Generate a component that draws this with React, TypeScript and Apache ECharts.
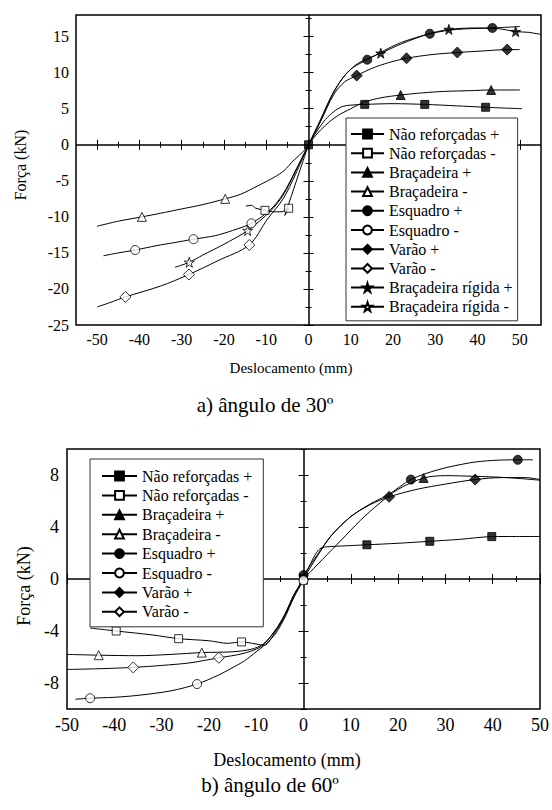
import React, { useEffect, useRef } from "react";
import * as echarts from "echarts";

const FONT = "Liberation Serif";

// ---------- Chart a) 30º ----------
const xMajor30 = [-50, -40, -30, -20, -10, 0, 10, 20, 30, 40, 50];
const xMinor30 = [-45, -35, -25, -15, -5, 5, 15, 25, 35, 45];
const yMajor30 = [-25, -20, -15, -10, -5, 0, 5, 10, 15];
const yMinor30 = [-22.5, -17.5, -12.5, -7.5, -2.5, 2.5, 7.5, 12.5, 17.5];

const naoRef30Pos = [[0, 0], [1, 1.0], [2, 1.9], [4, 3.5], [6, 4.6], [8, 5.3], [10, 5.5], [13.3, 5.6], [20, 5.7], [27.5, 5.6], [35, 5.4], [41.9, 5.2], [46, 5.1], [50.5, 5.0]];
const naoRef30PosMk = [[0, 0], [13.3, 5.6], [27.5, 5.6], [41.9, 5.2]];
const naoRef30Neg = [[0, 0], [-2, -3.5], [-4, -7.0], [-5.6, -9.8], [-5.0, -9.2], [-4.7, -8.8], [-6.5, -9.3], [-8.5, -9.3], [-10.3, -9.1], [-12.5, -8.8], [-13.5, -8.4], [-14.8, -8.5]];
const naoRef30NegMk = [[-4.7, -8.8], [-10.3, -9.1]];
const brac30Pos = [[0, 0], [2, 1.5], [4, 2.7], [6.8, 4.0], [10, 5.0], [13.1, 5.9], [17, 6.5], [21.8, 6.9], [27, 7.2], [32, 7.4], [38, 7.5], [43.2, 7.6], [50, 7.6]];
const brac30PosMk = [[21.8, 6.9], [43.2, 7.6]];
const brac30Neg = [[0, 0], [-1.5, -1.1], [-3.4, -2.1], [-5.8, -3.6], [-8.1, -4.5], [-12, -5.7], [-16, -6.85], [-19.7, -7.5], [-25, -8.3], [-30, -8.9], [-35, -9.5], [-39.4, -10.0], [-45, -10.6], [-50, -11.3]];
const brac30NegMk = [[-19.7, -7.5], [-39.4, -10.0]];
const esq30Pos = [[0, 0], [2, 2.2], [5, 6.2], [8, 9.2], [10.5, 10.7], [13.9, 11.8], [18, 13.1], [22, 14.2], [28.7, 15.4], [35, 16.0], [43.5, 16.2], [50, 16.4]];
const esq30PosMk = [[13.9, 11.8], [28.7, 15.4], [43.5, 16.2]];
const esq30Neg = [[0, 0], [-3, -3.5], [-6, -6.8], [-9, -9.0], [-13.5, -10.9], [-18, -11.9], [-22, -12.6], [-27.2, -13.1], [-32, -13.6], [-36, -14.0], [-41, -14.6], [-45, -15.0], [-48.5, -15.4]];
const esq30NegMk = [[-13.5, -10.9], [-27.2, -13.1], [-41, -14.6]];
const var30Pos = [[0, 0], [3, 3.4], [6, 7.0], [8.5, 8.7], [11.4, 9.6], [15, 10.6], [19, 11.4], [23.2, 12.0], [29, 12.5], [35.2, 12.8], [41, 13.0], [47, 13.2], [50, 13.2]];
const var30PosMk = [[11.4, 9.6], [23.2, 12.0], [35.2, 12.8], [47, 13.2]];
const var30Neg = [[0, 0], [-3, -4.0], [-6, -7.5], [-9.7, -10.3], [-14, -13.9], [-21.5, -16.1], [-28.3, -18.0], [-35, -19.6], [-43.3, -21.1], [-47, -21.9], [-50, -22.5]];
const var30NegMk = [[-14, -13.9], [-28.3, -18.0], [-43.3, -21.1]];
const rig30Pos = [[0, 0], [3, 3.7], [6, 7.4], [9, 9.9], [12, 11.4], [17.1, 12.7], [22, 14.0], [28, 15.3], [33.2, 16.0], [40, 16.2], [45, 16.1], [49, 15.7], [52, 15.6], [55, 15.3]];
const rig30PosMk = [[17.1, 12.7], [33.2, 16.0], [49, 15.7]];
const rig30Neg = [[0, 0], [-3, -3.6], [-6, -7.0], [-9, -9.2], [-14.4, -11.9], [-20, -13.8], [-25, -15.3], [-28.2, -16.3], [-31.6, -17.0]];
const rig30NegMk = [[-14.4, -11.9], [-28.2, -16.3]];

// ---------- Chart b) 60º ----------
const xMajor60 = [-50, -40, -30, -20, -10, 0, 10, 20, 30, 40, 50];
const xMinor60 = [-45, -35, -25, -15, -5, 5, 15, 25, 35, 45];
const yMajor60 = [-8, -4, 0, 4, 8];
const yMinor60 = [-10, -6, -2, 2, 6, 10];

const naoRef60Pos = [[0, 0], [1, 0.8], [2, 1.55], [3, 2.15], [4, 2.42], [6, 2.5], [10, 2.57], [13.4, 2.63], [20, 2.75], [26.7, 2.9], [33, 3.05], [39.8, 3.26], [45, 3.27], [50, 3.27]];
const naoRef60PosMk = [[0, 0.05], [13.4, 2.63], [26.7, 2.9], [39.8, 3.26]];
const naoRef60Neg = [[0, 0], [-2, -1.3], [-4, -2.9], [-6, -4.1], [-8.3, -5.1], [-10, -5.0], [-13.1, -4.84], [-16, -4.95], [-20, -4.75], [-26.4, -4.59], [-32, -4.3], [-39.6, -4.0], [-45.1, -3.77]];
const naoRef60NegMk = [[0, -0.1], [-13.1, -4.84], [-26.4, -4.59], [-39.6, -4.0]];
const brac60Pos = [[0, 0], [4, 1.5], [8, 3.0], [12, 4.5], [16, 5.8], [20, 6.9], [25.4, 7.77], [30, 7.95], [36, 7.9], [43, 7.8], [50, 7.6]];
const brac60PosMk = [[25.4, 7.77]];
const brac60Neg = [[0, 0], [-2, -1.2], [-4, -2.8], [-6, -4.0], [-8.5, -5.0], [-11, -5.4], [-15, -5.6], [-21.5, -5.66], [-28, -5.8], [-35, -5.9], [-43.3, -5.86], [-50, -5.8]];
const brac60NegMk = [[-21.5, -5.66], [-43.3, -5.86]];
const esq60Pos = [[0, 0.3], [3, 1.9], [6, 3.4], [10, 4.8], [14, 5.75], [18, 6.5], [22.7, 7.65], [28.4, 8.4], [35.4, 8.95], [40, 9.12], [45.3, 9.17], [48.5, 9.17]];
const esq60PosMk = [[0, 0.3], [22.7, 7.65], [45.3, 9.17]];
const esq60Neg = [[0, -0.1], [-2, -1.4], [-4, -3.0], [-6, -4.25], [-8, -5.0], [-10, -5.6], [-12.5, -6.3], [-15.4, -6.9], [-18, -7.4], [-22.5, -8.08], [-28, -8.6], [-35, -8.95], [-40, -9.1], [-45.1, -9.17], [-48.2, -9.25]];
const esq60NegMk = [[0, -0.1], [-22.5, -8.08], [-45.1, -9.17]];
const var60Pos = [[0, 0], [3, 1.8], [5.8, 3.3], [10, 4.8], [14, 5.7], [18.1, 6.32], [24, 6.9], [30, 7.3], [36.3, 7.65], [42, 7.8], [47, 7.8], [50, 7.65]];
const var60PosMk = [[18.1, 6.32], [36.3, 7.65]];
const var60Neg = [[0, 0], [-2, -1.2], [-4, -2.75], [-6, -3.95], [-9, -5.2], [-13, -5.75], [-17.9, -6.06], [-24, -6.45], [-30, -6.65], [-36, -6.8], [-43, -6.9], [-50, -6.96]];
const var60NegMk = [[-17.9, -6.06], [-36, -6.8]];

const STAR = "path://M50 0 L61.8 35.4 L99 35.4 L69 57.3 L80.3 92.7 L50 70.8 L19.7 92.7 L31 57.3 L1 35.4 L38.2 35.4 Z";

const defs30 = [
  { name: "Não reforçadas +", curve: naoRef30Pos, mk: naoRef30PosMk, symbol: "rect", filled: true },
  { name: "Não reforçadas -", curve: naoRef30Neg, mk: naoRef30NegMk, symbol: "rect", filled: false },
  { name: "Braçadeira +", curve: brac30Pos, mk: brac30PosMk, symbol: "triangle", filled: true },
  { name: "Braçadeira -", curve: brac30Neg, mk: brac30NegMk, symbol: "triangle", filled: false },
  { name: "Esquadro +", curve: esq30Pos, mk: esq30PosMk, symbol: "circle", filled: true },
  { name: "Esquadro -", curve: esq30Neg, mk: esq30NegMk, symbol: "circle", filled: false },
  { name: "Varão +", curve: var30Pos, mk: var30PosMk, symbol: "diamond", filled: true },
  { name: "Varão -", curve: var30Neg, mk: var30NegMk, symbol: "diamond", filled: false },
  { name: "Braçadeira rígida +", curve: rig30Pos, mk: rig30PosMk, symbol: STAR, filled: true },
  { name: "Braçadeira rígida -", curve: rig30Neg, mk: rig30NegMk, symbol: STAR, filled: false },
];

const defs60 = [
  { name: "Não reforçadas +", curve: naoRef60Pos, mk: naoRef60PosMk, symbol: "rect", filled: true },
  { name: "Não reforçadas -", curve: naoRef60Neg, mk: naoRef60NegMk, symbol: "rect", filled: false },
  { name: "Braçadeira +", curve: brac60Pos, mk: brac60PosMk, symbol: "triangle", filled: true },
  { name: "Braçadeira -", curve: brac60Neg, mk: brac60NegMk, symbol: "triangle", filled: false },
  { name: "Esquadro +", curve: esq60Pos, mk: esq60PosMk, symbol: "circle", filled: true },
  { name: "Esquadro -", curve: esq60Neg, mk: esq60NegMk, symbol: "circle", filled: false },
  { name: "Varão +", curve: var60Pos, mk: var60PosMk, symbol: "diamond", filled: true },
  { name: "Varão -", curve: var60Neg, mk: var60NegMk, symbol: "diamond", filled: false },
];

const symSize = (s: string) => (s === "diamond" ? 11 : s === "rect" ? 8 : s === STAR ? 10 : 9);

function styleOf(filled: boolean) {
  return filled
    ? { color: "#000", borderColor: "#000", borderWidth: 1 }
    : { color: "#fff", borderColor: "#000", borderWidth: 1 };
}

function buildSeries(defs: any[], xi: number, yi: number) {
  const out: any[] = [];
  defs.forEach((d, i) => {
    const line: any = {
      type: "line",
      name: d.name,
      data: d.curve,
      xAxisIndex: xi,
      yAxisIndex: yi,
      smooth: 0.3,
      showSymbol: false,
      symbol: d.symbol,
      symbolSize: symSize(d.symbol),
      lineStyle: { color: "#000", width: 1 },
      itemStyle: styleOf(d.filled),
      silent: true,
      z: 2,
    };
    if (i === 0) {
      line.markLine = {
        silent: true,
        symbol: ["none", "none"],
        label: { show: false },
        lineStyle: { color: "#000", width: 1.5, type: "solid" },
        data: [{ xAxis: 0 }, { yAxis: 0 }],
        z: 1,
      };
    }
    out.push(line);
  });
  defs.forEach((d) => {
    out.push({
      type: "scatter",
      name: d.name,
      data: d.mk,
      xAxisIndex: xi,
      yAxisIndex: yi,
      symbol: d.symbol,
      symbolSize: symSize(d.symbol),
      itemStyle: styleOf(d.filled),
      silent: true,
      z: 3,
    });
  });
  return out;
}

function tickAxis(
  gridIndex: number,
  position: string,
  min: number,
  max: number,
  interval: number,
  ticks: number[],
  len: number,
  labels: number[] | null,
  labelSize: number,
  margin: number
) {
  return {
    type: "value",
    gridIndex,
    position,
    min,
    max,
    interval,
    axisLine: { show: false },
    splitLine: { show: false },
    axisTick: {
      show: true,
      inside: true,
      length: len,
      customValues: ticks,
      lineStyle: { color: "#000", width: 1 },
    },
    axisLabel: labels
      ? {
          show: true,
          customValues: labels,
          fontSize: labelSize,
          fontFamily: FONT,
          color: "#000",
          margin,
        }
      : { show: false },
  };
}

export default function App() {
  const ref = useRef<HTMLDivElement>(null);

  useEffect(() => {
    if (!ref.current) return;
    const chart = echarts.init(ref.current, undefined, { renderer: "svg" });

    const xAxes = [
      tickAxis(0, "bottom", -55, 55, 5, xMajor30, 5, xMajor30, 16, 6),
      tickAxis(0, "bottom", -55, 55, 5, xMinor30, 3, null, 16, 6),
      tickAxis(0, "top", -55, 55, 5, xMajor30, 5, null, 16, 6),
      tickAxis(0, "top", -55, 55, 5, xMinor30, 3, null, 16, 6),
      tickAxis(1, "bottom", -50, 50, 10, xMajor60, 5, xMajor60, 18, 7),
      tickAxis(1, "bottom", -50, 50, 10, xMinor60, 3, null, 18, 7),
      tickAxis(1, "top", -50, 50, 10, xMajor60, 5, null, 18, 7),
      tickAxis(1, "top", -50, 50, 10, xMinor60, 3, null, 18, 7),
    ];
    const yAxes = [
      tickAxis(0, "left", -25, 18, 5, yMajor30, 5, yMajor30, 16, 7),
      tickAxis(0, "left", -25, 18, 5, yMinor30, 3, null, 16, 7),
      tickAxis(0, "right", -25, 18, 5, yMajor30, 5, null, 16, 7),
      tickAxis(0, "right", -25, 18, 5, yMinor30, 3, null, 16, 7),
      tickAxis(1, "left", -10, 10, 2, yMajor60, 5, yMajor60, 18, 8),
      tickAxis(1, "left", -10, 10, 2, yMinor60, 3, null, 18, 8),
      tickAxis(1, "right", -10, 10, 2, yMajor60, 5, null, 18, 8),
      tickAxis(1, "right", -10, 10, 2, yMinor60, 3, null, 18, 8),
    ];

    const legendBase = {
      orient: "vertical",
      itemWidth: 33,
      itemHeight: 11,
      itemGap: 3,
      backgroundColor: "#fff",
      borderColor: "#333",
      borderWidth: 1,
      selectedMode: false,
      textStyle: { fontFamily: FONT, fontSize: 16, color: "#000", lineHeight: 16 },
    };

    const option: any = {
      animation: false,
      backgroundColor: "#fff",
      textStyle: { fontFamily: FONT, color: "#000" },
      grid: [
        { left: 76, top: 15, width: 465, height: 310, show: true, borderColor: "#000", borderWidth: 1.5, backgroundColor: "transparent" },
        { left: 67, top: 449, width: 474, height: 260, show: true, borderColor: "#000", borderWidth: 1.5, backgroundColor: "transparent" },
      ],
      xAxis: xAxes,
      yAxis: yAxes,
      legend: [
        { ...legendBase, left: 346, top: 118, padding: [8, 5, 6, 4], itemGap: 3.2, data: defs30.map((d) => d.name) },
        { ...legendBase, itemWidth: 35, left: 90, top: 459, padding: [9, 11, 7, 11], itemGap: 3.4, data: defs60.map((d) => d.name) },
      ],
      series: [...buildSeries(defs30, 0, 0), ...buildSeries(defs60, 4, 4)],
      graphic: [
        { type: "text", x: 20, y: 165, rotation: Math.PI / 2, style: { text: "Força (kN)", fontFamily: FONT, fontSize: 16, fill: "#000", align: "center", verticalAlign: "middle" } },
        { type: "text", x: 291, y: 368, style: { text: "Deslocamento (mm)", fontFamily: FONT, fontSize: 15, fill: "#000", align: "center", verticalAlign: "middle" } },
        { type: "text", x: 265, y: 405, style: { text: "a) ângulo de 30º", fontFamily: FONT, fontSize: 21, fill: "#000", align: "center", verticalAlign: "middle" } },
        { type: "text", x: 24, y: 586, rotation: Math.PI / 2, style: { text: "Força (kN)", fontFamily: FONT, fontSize: 18, fill: "#000", align: "center", verticalAlign: "middle" } },
        { type: "text", x: 287, y: 760, style: { text: "Deslocamento (mm)", fontFamily: FONT, fontSize: 18, fill: "#000", align: "center", verticalAlign: "middle" } },
        { type: "text", x: 270, y: 785, style: { text: "b) ângulo de 60º", fontFamily: FONT, fontSize: 21, fill: "#000", align: "center", verticalAlign: "middle" } },
      ],
    };

    chart.setOption(option);
    return () => chart.dispose();
  }, []);

  return (
    <div
      ref={ref}
      style={{ position: "absolute", left: 0, top: 0, width: 552, height: 810, background: "#fff" }}
    />
  );
}
